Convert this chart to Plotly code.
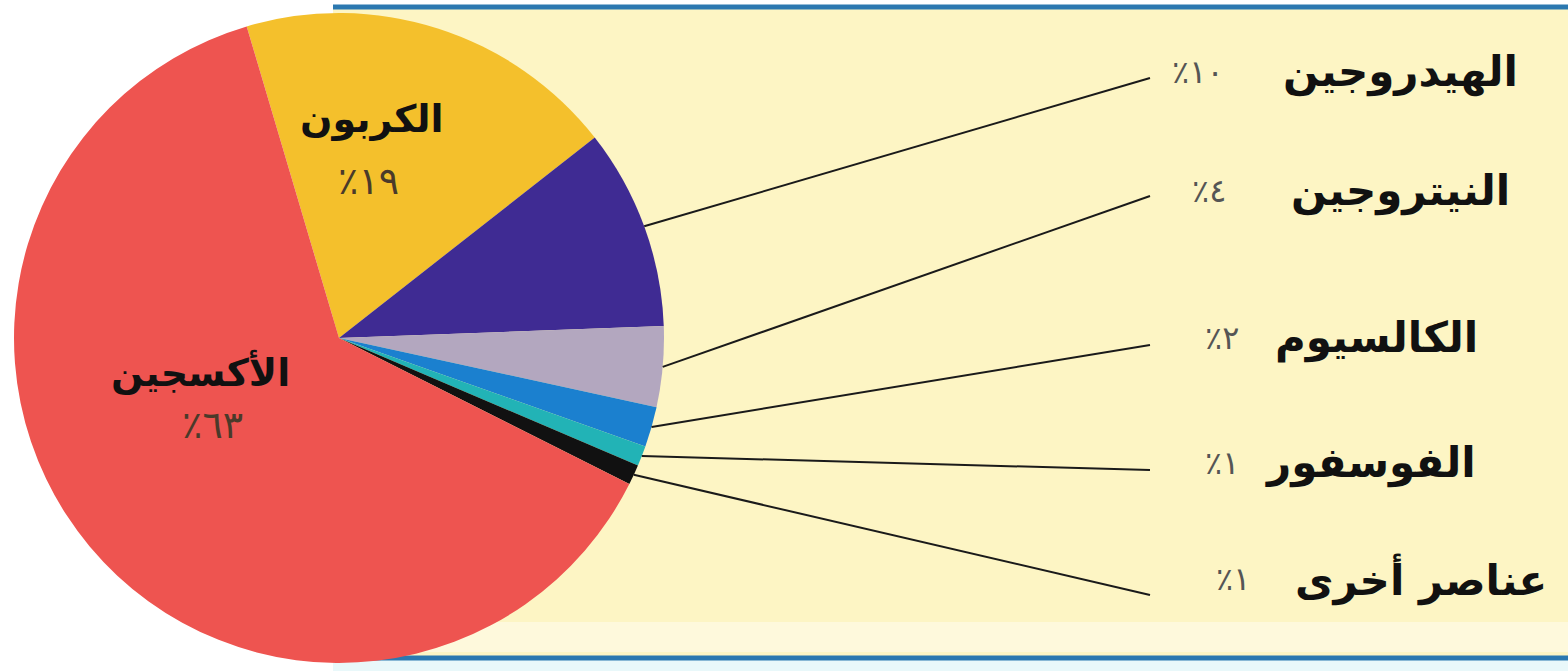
import math
import plotly.graph_objects as go

# ---- data ----
elements = ["الكربون", "الهيدروجين", "النيتروجين", "الكالسيوم", "الفوسفور", "عناصر أخرى", "الأكسجين"]
percent_values = [19, 10, 4, 2, 1, 1, 63]
percent_labels = ["٪١٩", "٪١٠", "٪٤", "٪٢", "٪١", "٪١", "٪٦٣"]
slice_colors = ["#F4C02C", "#3F2B93", "#B3A7BF", "#1B80CF", "#22B3B6", "#111111", "#EE5450"]

# ---- geometry (pixels) ----
W, H = 1568, 671
cx, cy, R = 339, 338, 325
rotation = -16.5

def px(x):
    return x / W

def py(y):
    return 1 - y / H

fig = go.Figure()
fig.add_trace(go.Pie(
    labels=elements,
    values=percent_values,
    marker=dict(colors=slice_colors, line=dict(width=0)),
    sort=False,
    direction="clockwise",
    rotation=rotation,
    textinfo="none",
    hoverinfo="skip",
    showlegend=False,
    domain=dict(x=[px(cx - R), px(cx + R)], y=[py(cy + R), py(cy - R)]),
))

shapes = []
# yellow panel with blue rules
shapes.append(dict(type="rect", xref="paper", yref="paper", layer="below",
                   x0=px(333), x1=1, y0=py(658), y1=py(7),
                   fillcolor="#FDF5C4", line=dict(width=0)))
shapes.append(dict(type="rect", xref="paper", yref="paper", layer="below",
                   x0=px(333), x1=1, y0=py(652), y1=py(622),
                   fillcolor="#FEF9DC", line=dict(width=0)))
shapes.append(dict(type="rect", xref="paper", yref="paper", layer="below",
                   x0=px(333), x1=1, y0=0, y1=py(660),
                   fillcolor="#E9F8FA", line=dict(width=0)))
for yy in (7, 658):
    shapes.append(dict(type="line", xref="paper", yref="paper", layer="below",
                       x0=px(333), x1=1, y0=py(yy), y1=py(yy),
                       line=dict(color="#2B78B0", width=5)))

# outer labels (hydrogen .. others)
name_cx = [1400, 1400, 1376, 1370, 1421]
pct_cx = [1198, 1209, 1222, 1222, 1233]
row_y = [72, 191, 338, 463, 579]
line_end_y = [78, 196, 345, 470, 595]
line_end_x = 1150

total = sum(percent_values)
cum = 0
annotations = []
for i, v in enumerate(percent_values):
    mid = rotation + 360 * (cum + v / 2) / total
    cum += v
    if 1 <= i <= 5:
        k = i - 1
        a = math.radians(mid)
        sx = cx + R * math.sin(a)
        sy = cy - R * math.cos(a)
        shapes.append(dict(type="line", xref="paper", yref="paper", layer="above",
                           x0=px(sx), y0=py(sy), x1=px(line_end_x), y1=py(line_end_y[k]),
                           line=dict(color="#1a1a1a", width=2)))
        annotations.append(dict(x=px(name_cx[k]), y=py(row_y[k]), xref="paper", yref="paper",
                                text="<b>" + elements[i] + "</b>", showarrow=False,
                                xanchor="center", yanchor="middle",
                                font=dict(family="DejaVu Sans", size=42, color="#111111")))
        annotations.append(dict(x=px(pct_cx[k]), y=py(row_y[k]), xref="paper", yref="paper",
                                text=percent_labels[i], showarrow=False,
                                xanchor="center", yanchor="middle",
                                font=dict(family="DejaVu Sans", size=32, color="#555555")))

# inner labels (carbon, oxygen)
inner = {0: ((372, 119), (368, 181)), 6: ((200, 372), (212, 425))}
for i, ((nx, ny), (qx, qy)) in inner.items():
    annotations.append(dict(x=px(nx), y=py(ny), xref="paper", yref="paper",
                            text="<b>" + elements[i] + "</b>", showarrow=False,
                            xanchor="center", yanchor="middle",
                            font=dict(family="DejaVu Sans", size=38, color="#111111")))
    annotations.append(dict(x=px(qx), y=py(qy), xref="paper", yref="paper",
                            text=percent_labels[i], showarrow=False,
                            xanchor="center", yanchor="middle",
                            font=dict(family="DejaVu Sans", size=38, color="#4a3a2a")))

fig.update_layout(
    width=W, height=H,
    margin=dict(l=0, r=0, t=0, b=0),
    paper_bgcolor="white",
    plot_bgcolor="white",
    shapes=shapes,
    annotations=annotations,
    showlegend=False,
)

fig.write_html(
    "out.html",
    config={"displayModeBar": False},
    post_script="document.body.style.margin='0';document.body.style.overflow='hidden';",
)
